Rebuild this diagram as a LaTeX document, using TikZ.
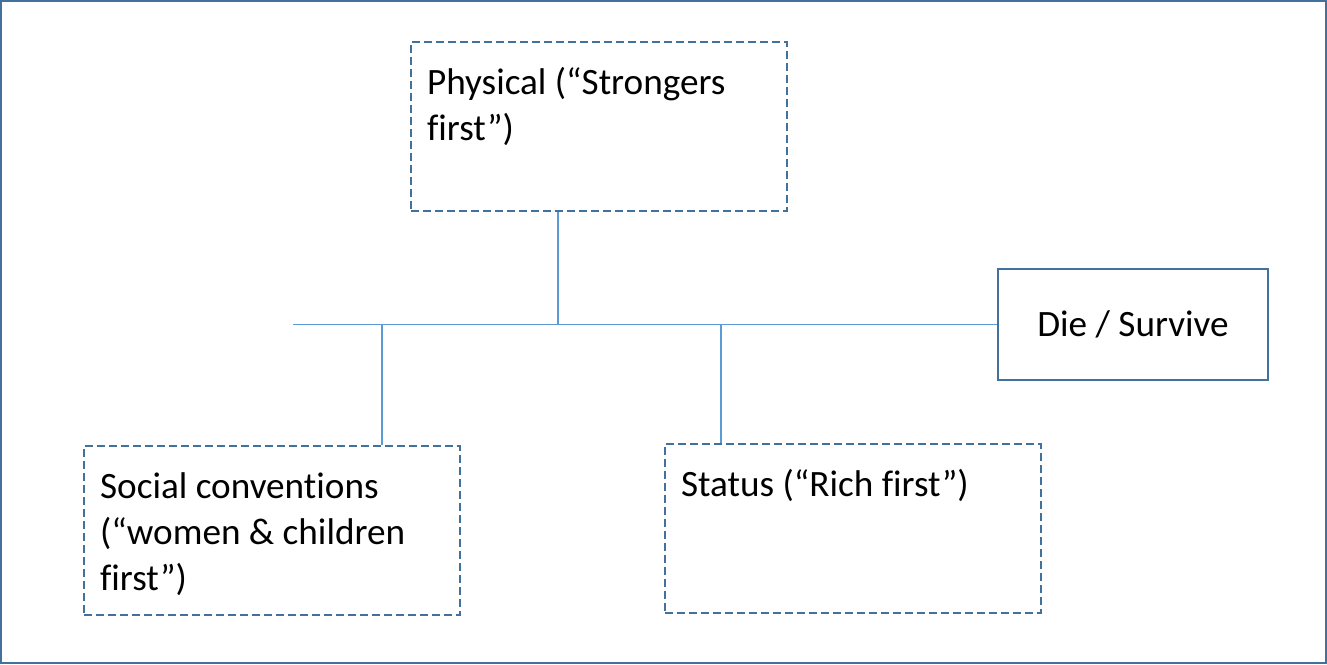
\documentclass[tikz,border=0pt]{standalone}
\usepackage{fontspec}
\setmainfont{Carlito}[Ligatures={NoCommon}]
\usetikzlibrary{calc}
\definecolor{boxblue}{RGB}{65,113,156}
\definecolor{lineblue}{RGB}{91,155,213}

\begin{document}
\begin{tikzpicture}[x=0.5pt,y=-0.5pt]

\tikzstyle{dashbox} = [draw=boxblue, line width=1.1pt, dash pattern=on 4pt off 2pt,
anchor=north west, inner xsep=8pt, inner ysep=10pt, font=\fontsize{18.6}{23}\selectfont]
\tikzstyle{solidbox} = [draw=boxblue, line width=0.8pt, inner sep=0pt,
minimum width=135pt, minimum height=55.5pt, font=\fontsize{18.6}{23}\selectfont]
\tikzstyle{link} = [draw=lineblue, line width=0.6pt]

\useasboundingbox (0,0) rectangle (1327,664);
\draw[boxblue, line width=1pt] (1,1) rectangle (1326,663);

\node [dashbox] (phys) at (410,41) {\parbox[t][64.5pt][t]{172pt}{\raggedright\strut Physical (“Strongers\\ first”)}};

\node [dashbox] (social) at (83,445) {\parbox[t][64.5pt][t]{172pt}{\raggedright\strut Social conventions\\ (“women \& children\\ first”)}};

\node [dashbox] (status) at (664,443) {\parbox[t][64.5pt][t]{172pt}{\raggedright\strut Status (“Rich first”)}};

\node [solidbox] (die) at (1133,324.5) {Die / Survive};

\coordinate (lineL) at (293,324.5);
\coordinate (jPhys) at (558,324.5);
\coordinate (jSocial) at (382,324.5);
\coordinate (jStatus) at (721,324.5);

\draw [link] (lineL) -- (die.west);
\draw [link] (jPhys) -- (jPhys |- phys.south);
\draw [link] (jSocial) -- (jSocial |- social.north);
\draw [link] (jStatus) -- (jStatus |- status.north);

\end{tikzpicture}
\end{document}
